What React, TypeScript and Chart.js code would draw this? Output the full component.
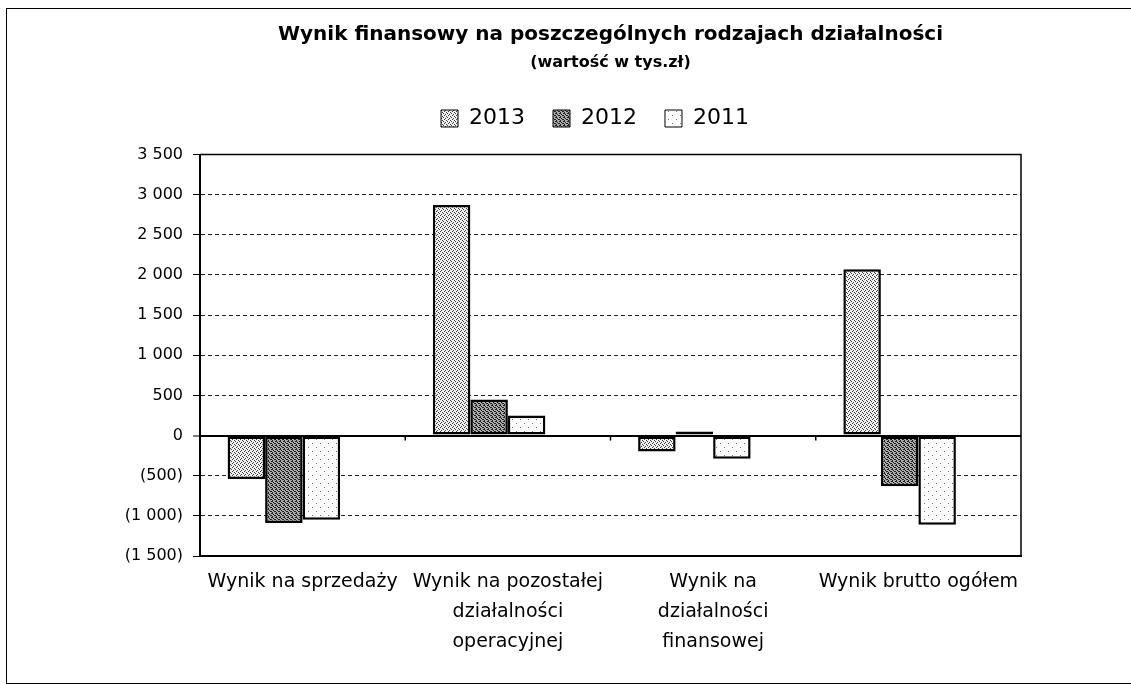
import React, { useEffect, useRef } from "react";
import { Chart, registerables } from "chart.js";

Chart.register(...registerables);

// ---- data ----
const categories: string[][] = [
  ["Wynik na sprzedaży"],
  ["Wynik na pozostałej", "działalności", "operacyjnej"],
  ["Wynik na", "działalności", "finansowej"],
  ["Wynik brutto ogółem"],
];
const seriesNames = ["2013", "2012", "2011", ""];
const values2013 = [-540, 2870, -200, 2070];
const values2012 = [-1090, 450, 50, -630];
const values2011 = [-1050, 250, -290, -1110];
// empty fourth slot in every group (as in the source chart)
const valuesEmpty = [null, null, null, null];
const yMin = -1500;
const yMax = 3500;
const yStep = 500;
const titleText = "Wynik finansowy na poszczególnych rodzajach działalności";
const subtitleText = "(wartość w tys.zł)";

const FONT = "'DejaVu Sans', 'Liberation Sans', sans-serif";

function makePattern(bg: string, dot: string, size: number, dots: number[][]) {
  const c = document.createElement("canvas");
  c.width = size;
  c.height = size;
  const g = c.getContext("2d")!;
  g.fillStyle = bg;
  g.fillRect(0, 0, size, size);
  g.fillStyle = dot;
  dots.forEach(([x, y]) => g.fillRect(x, y, 1, 1));
  return g.createPattern(c, "repeat")!;
}

function fmtTick(v: number): string {
  const a = Math.abs(v)
    .toString()
    .replace(/\B(?=(\d{3})+(?!\d))/g, " ");
  return v < 0 ? `(${a})` : a;
}

const framePlugin = {
  id: "frame",
  afterDatasetsDraw(chart: any) {
    const { ctx, chartArea } = chart;
    const y = chart.scales.y;
    const x = chart.scales.x;
    ctx.save();
    ctx.strokeStyle = "#000";
    ctx.lineWidth = 1.5;
    ctx.beginPath();
    ctx.moveTo(chartArea.left, chartArea.top);
    ctx.lineTo(chartArea.right, chartArea.top);
    ctx.lineTo(chartArea.right, chartArea.bottom);
    ctx.stroke();
    // category separators on the zero axis
    const y0 = y.getPixelForValue(0);
    const n = categories.length;
    const w = (chartArea.right - chartArea.left) / n;
    for (let i = 1; i < n; i++) {
      const px = x.left + i * w;
      ctx.beginPath();
      ctx.moveTo(px, y0);
      ctx.lineTo(px, y0 + 5);
      ctx.stroke();
    }
    ctx.restore();
  },
};

export default function App() {
  const ref = useRef<HTMLCanvasElement>(null);

  useEffect(() => {
    const canvas = ref.current!;
    Chart.defaults.font.family = FONT;
    Chart.defaults.color = "#000";

    const p2013 = makePattern("#eeeeee", "#444444", 4, [
      [0, 0],
      [2, 1],
      [1, 2],
      [3, 3],
    ]);
    const p2012 = makePattern("#a8a8a8", "#222222", 4, [
      [0, 0],
      [1, 0],
      [2, 1],
      [3, 2],
      [0, 2],
      [1, 3],
    ]);
    const p2011 = makePattern("#ffffff", "#777777", 8, [
      [1, 2],
      [5, 6],
    ]);
    const fills: any[] = [p2013, p2012, p2011, "rgba(0,0,0,0)"];
    const series: any[] = [values2013, values2012, values2011, valuesEmpty];

    const chart = new Chart(canvas, {
      type: "bar",
      data: {
        labels: categories as any,
        datasets: seriesNames.map((name, i) => ({
          label: name,
          data: series[i],
          backgroundColor: fills[i],
          borderColor: "#000",
          borderWidth: 2.5,
          borderSkipped: false,
          categoryPercentage: 0.731,
          barPercentage: 1.0,
          xAxisID: "x",
          yAxisID: "y",
        })),
      },
      options: {
        responsive: false,
        animation: false,
        devicePixelRatio: 1,
        layout: { padding: { left: 110, right: 58, top: 0, bottom: 0 } },
        plugins: {
          title: {
            display: true,
            fullSize: false,
            text: titleText,
            color: "#000",
            font: { family: FONT, size: 20, weight: "bold" },
            padding: { top: 14, bottom: 0 },
          },
          subtitle: {
            display: true,
            fullSize: false,
            text: subtitleText,
            color: "#000",
            font: { family: FONT, size: 16, weight: "bold" },
            padding: { top: 5.9, bottom: 7.4 },
          },
          legend: {
            display: true,
            position: "top",
            fullSize: true,
            labels: {
              color: "#000",
              font: { family: FONT, size: 22 },
              boxWidth: 17,
              boxHeight: 17,
              padding: 28,
              filter: (item: any) => item.text !== "",
              generateLabels: (ch: any) =>
                Chart.defaults.plugins.legend.labels
                  .generateLabels(ch)
                  .map((l: any) => ({ ...l, lineWidth: 1 })),
            },
          },
          tooltip: { enabled: false },
        },
        scales: {
          x: {
            type: "category",
            position: "bottom",
            grid: { display: false, drawTicks: false },
            border: { display: true, color: "#000", width: 2 },
            ticks: {
              color: "#000",
              font: { family: FONT, size: 19, lineHeight: "30px" as any },
              padding: 11,
              maxRotation: 0,
              autoSkip: false,
            },
            afterFit: (s: any) => {
              s.height = 127;
            },
          },
          xTop: {
            type: "category",
            position: "top",
            display: true,
            grid: { display: false, drawTicks: false },
            border: { display: false },
            ticks: { display: false },
            afterFit: (s: any) => {
              s.height = 15;
            },
          },
          y: {
            type: "linear",
            position: "left",
            min: yMin,
            max: yMax,
            ticks: {
              stepSize: yStep,
              color: "#000",
              font: { family: FONT, size: 16 },
              padding: 10,
              callback: (v: any) => fmtTick(Number(v)),
            },
            grid: {
              color: (c: any) => {
                const v = c.tick ? c.tick.value : null;
                if (v === yMax || v === yMin) return "rgba(0,0,0,0)";
                return v === 0 ? "#000" : "#222";
              },
              lineWidth: (c: any) => (c.tick && c.tick.value === 0 ? 2 : 1),
              tickLength: 7,
              tickColor: "#000",
              tickWidth: 1,
            },
            border: {
              display: true,
              color: "#000",
              width: 2,
              dash: (c: any) => (c.tick && c.tick.value === 0 ? [] : [4, 3]),
            },
            afterFit: (s: any) => {
              s.width = 83;
            },
          },
          yRight: {
            type: "linear",
            position: "right",
            display: true,
            grid: { display: false, drawTicks: false },
            border: { display: false },
            ticks: { display: false },
            afterFit: (s: any) => {
              s.width = 52;
            },
          },
        },
      } as any,
      plugins: [framePlugin],
    });

    return () => chart.destroy();
  }, []);

  return (
    <div
      style={{
        position: "absolute",
        left: 6,
        top: 8,
        width: 1125,
        height: 676,
        boxSizing: "border-box",
        borderLeft: "1px solid #000",
        borderTop: "1px solid #000",
        borderBottom: "1px solid #000",
        background: "#fff",
      }}
    >
      <canvas
        ref={ref}
        width={1124}
        height={674}
        style={{ display: "block", width: 1124, height: 674 }}
      />
    </div>
  );
}
